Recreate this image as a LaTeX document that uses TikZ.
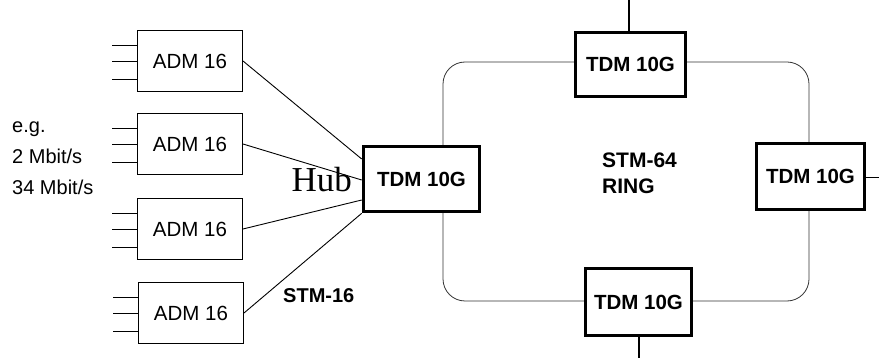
\documentclass[tikz,border=0pt]{standalone}
\usepackage{fontspec}
\setmainfont{Liberation Sans}
\newfontfamily\serifhub{Liberation Serif}
\begin{document}
\begin{tikzpicture}[x=1pt,y=-1pt,
  adm/.style={draw=black, line width=1pt, fill=white, minimum width=105pt, minimum height=61pt, inner sep=0pt, font=\fontsize{20.5}{24}\selectfont},
  tdm/.style={draw=black, line width=3.6pt, fill=white, inner sep=0pt, font=\bfseries\fontsize{20.5}{24}\selectfont},
  wire/.style={draw=black, line width=0.9pt},
  ringline/.style={draw=black!80, line width=0.8pt},
  lbl/.style={inner sep=0pt, font=\fontsize{20}{24}\selectfont},
  blbl/.style={inner sep=0pt, font=\bfseries\fontsize{21}{26}\selectfont}]
\useasboundingbox (0,0) rectangle (879,358);
% ring
\node[ringline, rounded corners=22pt, minimum width=366pt, minimum height=239pt, inner sep=0pt] (ring) at (626,181.5) {};
% ADM boxes
\node[adm] (a1) at (190,61) {ADM 16};
\node[adm] (a2) at (190,144) {ADM 16};
\node[adm] (a3) at (190,229) {ADM 16};
\node[adm] (a4) at (191,313) {ADM 16};
\foreach \n in {a1,a2,a3,a4}{
  \draw[wire] ([yshift=16pt]\n.west) -- ++(-25,0);
  \draw[wire] (\n.west) -- ++(-25,0);
  \draw[wire] ([yshift=-18pt]\n.west) -- ++(-25,0);
}
% TDM boxes
\node[tdm, minimum width=116pt, minimum height=65pt] (hub) at (421.5,179) {TDM 10G};
\node[tdm, minimum width=110pt, minimum height=64pt] (top) at (630.5,64.5) {TDM 10G};
\node[tdm, minimum width=108pt, minimum height=66pt] (right) at (810.5,176.5) {TDM 10G};
\node[tdm, minimum width=106pt, minimum height=67pt] (bot) at (638.5,302) {TDM 10G};
% tributary stubs of ring nodes
\coordinate (topend) at (629,0);
\coordinate (rightend) at (879,177);
\coordinate (botend) at (639,358);
\draw[wire, line width=1.2pt] (top.north -| topend) -- (topend);
\draw[wire] (right.east |- rightend) -- (rightend);
\draw[wire, line width=1.2pt] (bot.south -| botend) -- (botend);
% ADM to hub
\draw[wire] (a1.east) -- ([yshift=20pt]hub.west);
\draw[wire] (a2.east) -- ([yshift=-1pt]hub.west);
\draw[wire] (a3.east) -- ([yshift=-21pt]hub.west);
\draw[wire] (a4.east) -- (hub.south west);
% labels
\node[anchor=base east, inner sep=0pt, font=\serifhub\fontsize{35}{38}\selectfont] (hublbl) at (352,192) {Hub};
\node[lbl, anchor=base west] (eg) at (12,133) {e.g.};
\node[lbl, anchor=base west] (r2) at (12,164) {2 Mbit/s};
\node[lbl, anchor=base west] (r34) at (12,195) {34 Mbit/s};
\node[blbl, font=\bfseries\fontsize{20}{24}\selectfont, anchor=base west] (stm16) at (283,303) {STM-16};
\node[blbl, anchor=base west, align=left] (stm64) at (602,194) {STM-64\\RING};
\end{tikzpicture}
\end{document}
